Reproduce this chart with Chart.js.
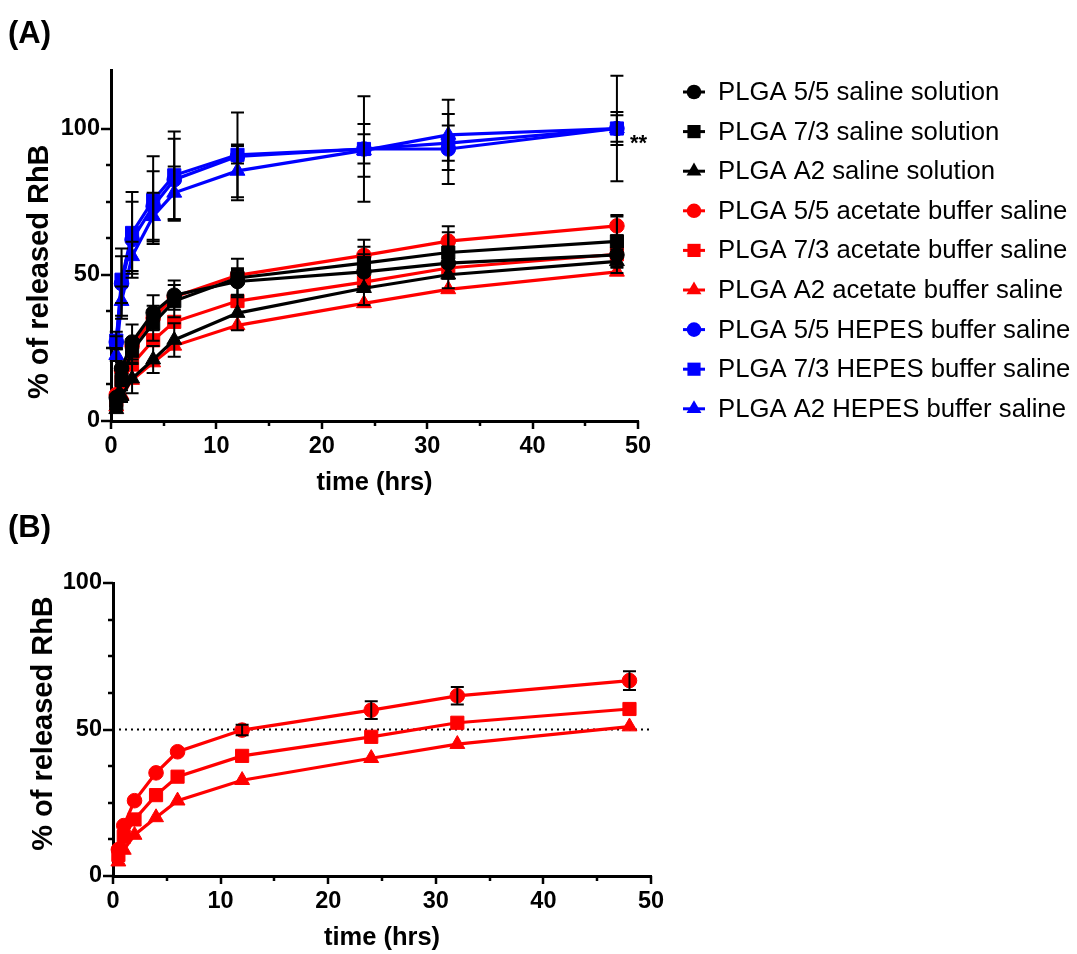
<!DOCTYPE html>
<html><head><meta charset="utf-8">
<script src="https://cdn.jsdelivr.net/npm/chart.js@4.4.1/dist/chart.umd.min.js"></script>
<style>
html,body{margin:0;padding:0;background:#fff;width:1077px;height:954px;overflow:hidden;}
canvas{position:absolute;left:0;}
#cA{top:0px}
#cB{top:505px}
</style></head><body>
<canvas id="cA" width="1077" height="505"></canvas>
<canvas id="cB" width="1077" height="449"></canvas>
<script>
// ---------------- data ----------------
const times = [0.5, 1, 2, 4, 6, 12, 24, 32, 48];
const seriesNames = [
  "PLGA 5/5 saline solution", "PLGA 7/3 saline solution", "PLGA A2 saline solution",
  "PLGA 5/5 acetate buffer saline", "PLGA 7/3 acetate buffer saline", "PLGA A2 acetate buffer saline",
  "PLGA 5/5 HEPES buffer saline", "PLGA 7/3 HEPES buffer saline", "PLGA A2 HEPES buffer saline"
];
const saline55  = [8, 18, 27, 37, 43, 47.7, 51, 54, 56.8];
const saline73  = [6, 14, 24, 33.4, 41, 48.9, 54, 57.6, 61.4];
const salineA2  = [4, 8.5, 14.5, 21, 27.7, 36.9, 45.4, 50, 54.6];
const acetate55 = [9, 17.2, 25.7, 35.2, 42.4, 49.8, 56.6, 61.5, 66.7];
const acetate73 = [7.2, 13.4, 19.3, 27.6, 33.9, 41, 47.5, 52.3, 57];
const acetateA2 = [4.9, 8.9, 14, 20, 25.7, 32.7, 40.2, 45, 51];
const hepes55   = [27, 47, 62, 73.4, 82.5, 90.5, 93, 93, 100];
const hepes73   = [27.5, 48.3, 64.3, 75.5, 84, 91, 93, 95, 100];
const hepesA2   = [22.5, 41, 56.3, 70, 78, 85.5, 92.5, 97.8, 100];

const errSaline55  = [1, 2, 6, 6, 5, 4.5, 6, 5, 4];
const errSaline73  = [1, 2, 4, 6, 5.5, 6.6, 8, 9, 9];
const errSalineA2  = [1, 2, 5, 4.6, 5.7, 5.9, 5.7, 4.6, 4];
const errAcetate55 = [0, 0, 0, 0, 0, 1.8, 3, 3, 3.2];
const errAcetate73 = [0, 0, 0, 0, 0, 0, 0, 0, 0];
const errAcetateA2 = [0, 0, 0, 0, 0, 0, 0, 0, 0];
const errHepes55   = [2, 12, 13, 12, 14, 15, 18, 12, 5.6];
const errHepes73   = [3, 8, 14, 15, 15, 3, 5, 6, 18];
const errHepesA2   = [2, 5, 5, 8, 9, 9, 9, 12, 4.5];

const xTickLabels = [0, 10, 20, 30, 40, 50];
const yTickLabels = [0, 50, 100];
const refLine = [50];
const significance = "**";

// ---------------- styling ----------------
const FONT = '"Liberation Sans", Arial, sans-serif';
const BLACK = '#000000', RED = '#ff0000', BLUE = '#0000ff';
const styles = [
  {c: BLACK, s: 'circle'}, {c: BLACK, s: 'rect'}, {c: BLACK, s: 'triangle'},
  {c: RED, s: 'circle'}, {c: RED, s: 'rect'}, {c: RED, s: 'triangle'},
  {c: BLUE, s: 'circle'}, {c: BLUE, s: 'rect'}, {c: BLUE, s: 'triangle'}
];
const radius = {circle: 7.3, rect: 9.3, triangle: 8.6};
const allValues = [saline55, saline73, salineA2, acetate55, acetate73, acetateA2, hepes55, hepes73, hepesA2];
const allErrors = [errSaline55, errSaline73, errSalineA2, errAcetate55, errAcetate73, errAcetateA2, errHepes55, errHepes73, errHepesA2];

function makeDataset(i) {
  const st = styles[i];
  return {
    label: seriesNames[i],
    data: times.map((t, k) => ({x: t, y: allValues[i][k]})),
    errors: allErrors[i],
    borderColor: st.c, backgroundColor: st.c,
    borderWidth: 3.2, tension: 0,
    pointStyle: st.s, pointRadius: radius[st.s], pointBorderWidth: 1,
    pointBorderColor: st.c, pointBackgroundColor: st.c,
    clip: false
  };
}

function drawMarker(ctx, style, x, y, r, color) {
  ctx.fillStyle = color;
  ctx.beginPath();
  if (style === 'circle') ctx.arc(x, y, r, 0, Math.PI * 2);
  else if (style === 'rect') { const s = r * Math.SQRT1_2; ctx.rect(x - s, y - s, 2 * s, 2 * s); }
  else { ctx.moveTo(x, y - r); ctx.lineTo(x + r * Math.sin(2 * Math.PI / 3), y + r * 0.5); ctx.lineTo(x - r * Math.sin(2 * Math.PI / 3), y + r * 0.5); ctx.closePath(); }
  ctx.fill();
}

const errorBars = {
  id: 'errorBars',
  afterDatasetsDraw(chart) {
    const ctx = chart.ctx, xs = chart.scales.x, ys = chart.scales.y;
    ctx.save();
    ctx.strokeStyle = '#000'; ctx.lineWidth = 2;
    chart.data.datasets.forEach((ds, di) => {
      if (!ds.errors) return;
      ds.data.forEach((p, k) => {
        const e = ds.errors[k];
        if (!e) return;
        const x = xs.getPixelForValue(p.x);
        const y1 = ys.getPixelForValue(p.y + e), y2 = ys.getPixelForValue(p.y - e);
        ctx.beginPath();
        ctx.moveTo(x, y1); ctx.lineTo(x, y2);
        ctx.moveTo(x - 6.5, y1); ctx.lineTo(x + 6.5, y1);
        ctx.moveTo(x - 6.5, y2); ctx.lineTo(x + 6.5, y2);
        ctx.stroke();
      });
    });
    ctx.restore();
  }
};

const axisDecor = {
  id: 'axisDecor',
  afterDraw(chart, args, opts) {
    const ctx = chart.ctx, xs = chart.scales.x, ys = chart.scales.y, ca = chart.chartArea;
    ctx.save();
    ctx.strokeStyle = '#000'; ctx.lineWidth = 2.5;
    ys.ticks.forEach(t => {
      if (Math.abs(t.value / 12.5 - Math.round(t.value / 12.5)) > 1e-6) return;
      const major = yTickLabels.includes(t.value);
      const py = Math.round(ys.getPixelForValue(t.value));
      ctx.beginPath(); ctx.moveTo(ca.left - (major ? 10 : 5), py); ctx.lineTo(ca.left, py); ctx.stroke();
    });
    xs.ticks.forEach(t => {
      const major = xTickLabels.includes(t.value);
      const px = Math.round(xs.getPixelForValue(t.value));
      ctx.beginPath(); ctx.moveTo(px, ca.bottom); ctx.lineTo(px, ca.bottom + (major ? 8 : 5)); ctx.stroke();
    });
    // y axis title
    ctx.fillStyle = '#000';
    ctx.font = 'bold 29px ' + FONT;
    ctx.textAlign = 'center'; ctx.textBaseline = 'middle';
    const cy = (ys.getPixelForValue(0) + ys.getPixelForValue(100)) / 2 + opts.titleDy;
    ctx.save(); ctx.translate(opts.titleX, cy); ctx.rotate(-Math.PI / 2);
    ctx.fillText('% of released RhB', 0, 0); ctx.restore();
    // panel label
    ctx.font = 'bold 31px ' + FONT;
    ctx.textAlign = 'left'; ctx.textBaseline = 'alphabetic';
    ctx.fillText(opts.panel, 8, opts.panelY);
    if (opts.legend) {
      chart.data.datasets.forEach((ds, i) => {
        if (!ds.errors) return;
        const y = 92 + i * 39.6;
        const st = styles[i];
        ctx.strokeStyle = st.c; ctx.lineWidth = 3;
        ctx.beginPath(); ctx.moveTo(683, y); ctx.lineTo(705, y); ctx.stroke();
        drawMarker(ctx, st.s, 694, y, radius[st.s], st.c);
        ctx.fillStyle = '#000';
        ctx.font = '25.7px ' + FONT;
        ctx.textBaseline = 'middle';
        ctx.fillText(ds.label, 718, y + 1);
      });
    }
    if (opts.stars) {
      ctx.fillStyle = '#000';
      ctx.font = 'bold 22px ' + FONT;
      ctx.textBaseline = 'alphabetic'; ctx.textAlign = 'left';
      ctx.fillText(significance, xs.getPixelForValue(48) + 13, ys.getPixelForValue(100) + 21);
    }
    ctx.restore();
  }
};

function scaleOpts(maxY, yWidth, xHeight, titlePad) {
  const tickFont = {family: FONT, size: 23.5, weight: 'bold'};
  return {
    x: {
      type: 'linear', min: 0, max: 50,
      afterFit(s) { s.height = xHeight; },
      ticks: {stepSize: 5, autoSkip: false, maxRotation: 0, font: tickFont, color: '#000', padding: 11,
        callback: v => xTickLabels.includes(v) ? String(v) : ''},
      grid: {display: false, drawTicks: false},
      border: {display: true, width: 3, color: '#000'},
      title: {display: true, text: 'time (hrs)', color: '#000', font: {family: FONT, size: 25.5, weight: 'bold'}, padding: titlePad}
    },
    y: {
      min: 0, max: maxY,
      afterFit(s) { s.width = yWidth; },
      ticks: {stepSize: 12.5, autoSkip: false, font: tickFont, color: '#000', padding: 11,
        callback: v => yTickLabels.includes(v) ? String(v) : ''},
      grid: {display: false, drawTicks: false},
      border: {display: true, width: 3, color: '#000'}
    }
  };
}

Chart.register(errorBars, axisDecor);

new Chart(document.getElementById('cA'), {
  type: 'line',
  data: {datasets: [0, 1, 2, 3, 4, 5, 6, 7, 8].map(makeDataset)},
  options: {
    responsive: false, animation: false, devicePixelRatio: 1,
    layout: {padding: {left: 0, top: 70, right: 439, bottom: 0}},
    plugins: {legend: {display: false}, tooltip: {enabled: false},
      axisDecor: {titleX: 40, titleDy: -3, panel: '(A)', panelY: 43, legend: true, stars: true}},
    scales: scaleOpts(120, 111, 84, {top: 2, bottom: 7})
  }
});

const refDataset = {
  data: [{x: 0, y: refLine[0]}, {x: 50, y: refLine[0]}],
  borderColor: '#000', borderWidth: 2, borderDash: [2, 4], pointRadius: 0, order: 10, clip: false
};

new Chart(document.getElementById('cB'), {
  type: 'line',
  data: {datasets: [makeDataset(3), makeDataset(4), makeDataset(5), refDataset]},
  options: {
    responsive: false, animation: false, devicePixelRatio: 1,
    layout: {padding: {left: 0, top: 78, right: 426, bottom: 0}},
    plugins: {legend: {display: false}, tooltip: {enabled: false},
      axisDecor: {titleX: 44, titleDy: -6, panel: '(B)', panelY: 32, legend: false, stars: false}},
    scales: scaleOpts(100, 113, 78, {top: 2, bottom: 1})
  }
});
</script>
</body></html>
